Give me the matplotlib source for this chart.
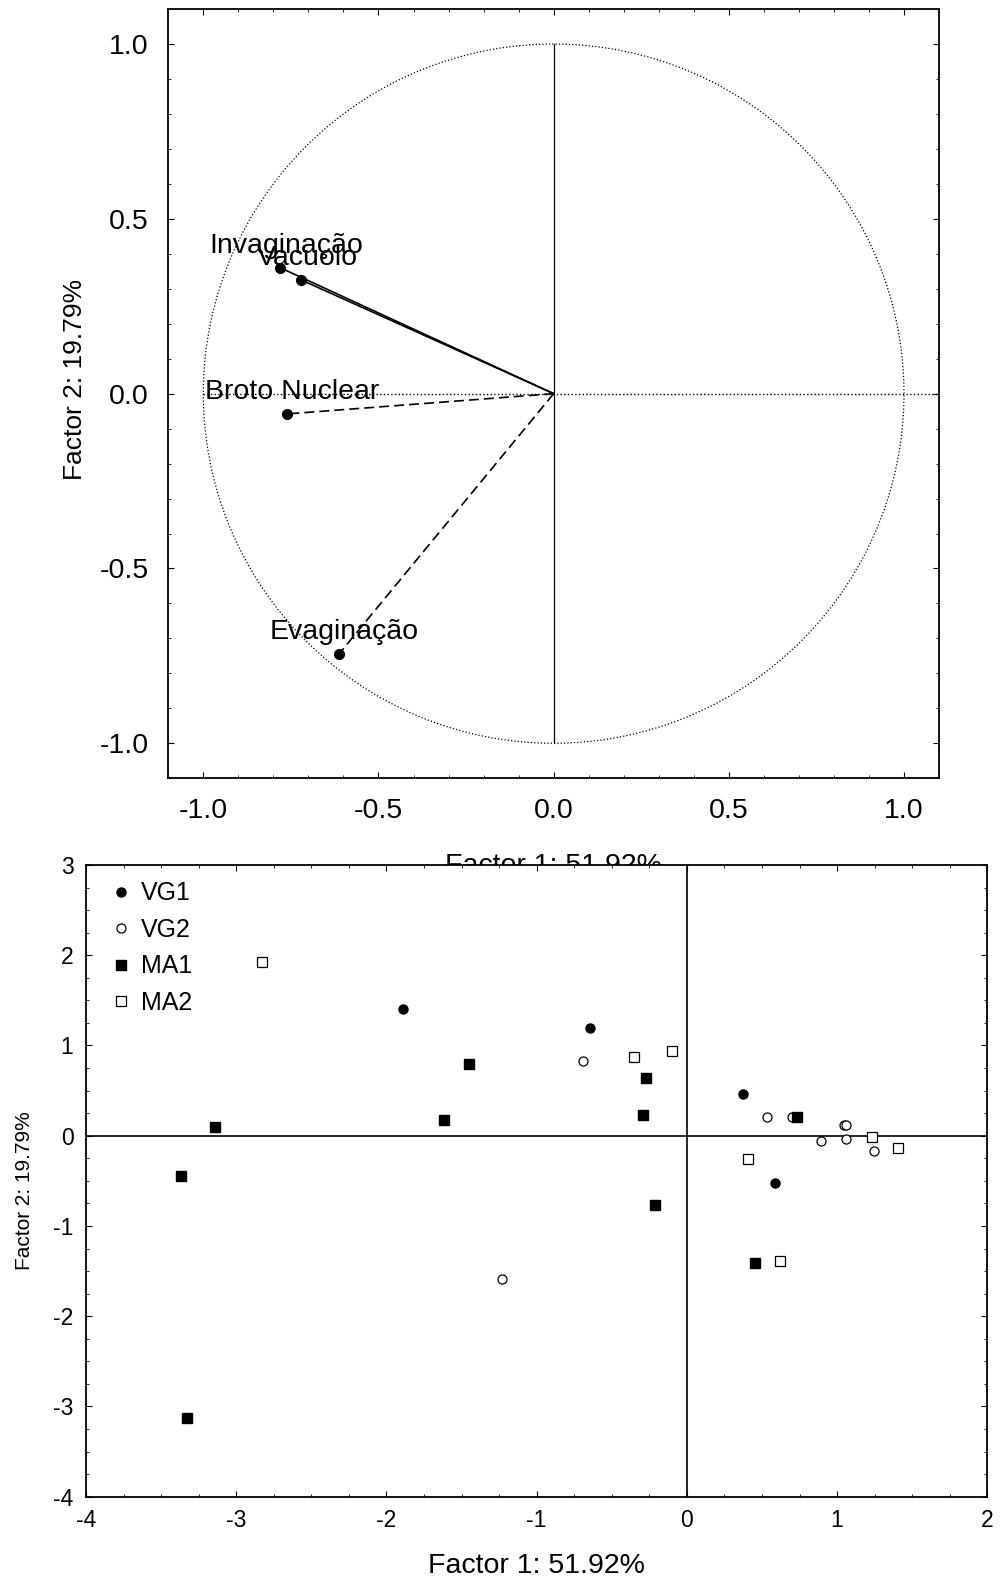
import matplotlib
matplotlib.use("Agg")
import matplotlib.pyplot as plt
import numpy as np
from matplotlib.ticker import MultipleLocator

plt.rcParams['font.family'] = ['Liberation Sans', 'DejaVu Sans']
plt.rcParams['axes.unicode_minus'] = False

# loadings (top plot)
var_names = ['Invaginação', 'Vacuolo', 'Broto Nuclear', 'Evaginação']
load_x = [-0.780, -0.720, -0.761, -0.613]
load_y = [0.360, 0.325, -0.058, -0.745]
load_style = ['-', '-', '--', '--']

# scores (bottom plot)
vg1_x = [-1.891, -0.642, 0.376, 0.584]
vg1_y = [1.404, 1.193, 0.458, -0.521]
vg2_x = [-0.690, 0.535, 0.701, 1.046, 1.060, 0.893, 1.057, 1.243, -1.232]
vg2_y = [0.827, 0.210, 0.210, 0.114, 0.114, -0.060, -0.041, -0.174, -1.590]
ma1_x = [-3.141, -3.369, -1.615, -1.451, -0.272, -0.295, -0.215, 0.732, 0.455, -3.325]
ma1_y = [0.095, -0.443, 0.170, 0.790, 0.635, 0.228, -0.773, 0.210, -1.408, -3.130]
ma2_x = [-2.827, -0.352, -0.098, 1.232, 1.404, 0.409, 0.617]
ma2_y = [1.925, 0.868, 0.942, -0.019, -0.137, -0.255, -1.390]

fig = plt.figure(figsize=(10.01, 15.86), dpi=100)

# ---- top: circle of correlations
ax1 = fig.add_axes([0.1681, 0.5093, 0.7700, 0.4850])
t = np.linspace(0, 2*np.pi, 400)
ax1.plot(np.cos(t), np.sin(t), color='k', ls=':', lw=0.9)
ax1.plot([-1, 1.1], [0, 0], color='k', ls=':', lw=1.0)
ax1.plot([0, 0], [-1, 1], color='k', lw=0.9)
for name, x, y, ls in zip(var_names, load_x, load_y, load_style):
    ax1.plot([0, x], [0, y], color='k', ls=ls, lw=1.2, dashes=(6, 3) if ls == '--' else (None, None))
    ax1.plot(x, y, 'o', color='k', ms=7)
    ax1.annotate(name, (x, y), xytext=(4, 16), textcoords='offset points',
                 ha='center', va='center', fontsize=20.5)
ax1.set_xlim(-1.1, 1.1)
ax1.set_ylim(-1.1, 1.1)
ax1.xaxis.set_major_locator(MultipleLocator(0.5))
ax1.yaxis.set_major_locator(MultipleLocator(0.5))
ax1.xaxis.set_minor_locator(MultipleLocator(0.1))
ax1.yaxis.set_minor_locator(MultipleLocator(0.1))
ax1.xaxis.set_major_formatter(plt.FormatStrFormatter('%.1f'))
ax1.yaxis.set_major_formatter(plt.FormatStrFormatter('%.1f'))
ax1.tick_params(which='both', direction='in', top=True, right=True, labelsize=20.5, pad=14)
ax1.tick_params(which='major', length=4)
ax1.tick_params(which='minor', length=2.5)
ax1.set_xlabel('Factor 1: 51.92%', fontsize=20.5)
ax1.set_ylabel('Factor 2: 19.79%', fontsize=19)
ax1.xaxis.set_label_coords(0.5, -0.097)
ax1.yaxis.set_label_coords(-0.105, 0.519)
for s in ax1.spines.values():
    s.set_linewidth(1.3)

# ---- bottom: scores
ax2 = fig.add_axes([0.0859, 0.0563, 0.9004, 0.3983])
ax2.set_facecolor('white')
ax2.axhline(0, color='k', lw=1.2)
ax2.axvline(0, color='k', lw=1.2)
ax2.plot(vg1_x, vg1_y, 'o', ls='none', color='k', ms=6.5, label='VG1')
ax2.plot(vg2_x, vg2_y, 'o', ls='none', mfc='white', mec='k', mew=0.9, ms=6.5, label='VG2')
ax2.plot(ma1_x, ma1_y, 's', ls='none', color='k', ms=6.5, label='MA1')
ax2.plot(ma2_x, ma2_y, 's', ls='none', mfc='white', mec='k', mew=0.9, ms=6.5, label='MA2')
ax2.set_xlim(-4, 2)
ax2.set_ylim(-4, 3)
ax2.xaxis.set_major_locator(MultipleLocator(1))
ax2.yaxis.set_major_locator(MultipleLocator(1))
ax2.xaxis.set_minor_locator(MultipleLocator(0.25))
ax2.yaxis.set_minor_locator(MultipleLocator(0.25))
ax2.tick_params(which='both', direction='in', top=True, right=True, labelsize=16.5, pad=9)
ax2.tick_params(which='major', length=4)
ax2.tick_params(which='minor', length=2.5)
ax2.set_xlabel('Factor 1: 51.92%', fontsize=20.5)
ax2.set_ylabel('Factor 2: 19.79%', fontsize=15)
ax2.xaxis.set_label_coords(0.5, -0.089)
ax2.yaxis.set_label_coords(-0.058, 0.484)
for s in ax2.spines.values():
    s.set_linewidth(1.3)
ax2.legend(loc='upper left', bbox_to_anchor=(0.017, 0.99), frameon=False, fontsize=18,
           handlelength=0.8, handletextpad=0.4, labelspacing=0.5, borderaxespad=0)

fig.savefig('out.png', dpi=100, facecolor='white')
